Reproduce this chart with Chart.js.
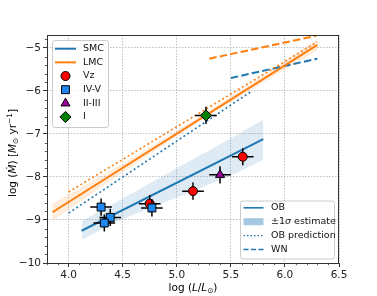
<!DOCTYPE html>
<html>
<head>
<meta charset="utf-8">
<script src="https://cdn.jsdelivr.net/npm/chart.js@4.4.0/dist/chart.umd.min.js"></script>
<style>
  body { margin: 0; background: #fff; }
</style>
</head>
<body>
<canvas id="chart" width="377" height="296"></canvas>
<script>
const xTicks = [4.0, 4.5, 5.0, 5.5, 6.0, 6.5];
const yTicks = [-10, -9, -8, -7, -6, -5];

// fitted relations, end points
const smcFitX = [4.12, 5.80];
const smcFitY = [-9.25, -7.12];
const smcBandX = [4.12, 4.5, 5.0, 5.5, 5.80];
const smcBandHi = [-9.03, -8.50, -7.80, -7.10, -6.67];
const smcBandLo = [-9.46, -8.98, -8.48, -7.97, -7.60];
const smcPredX = [4.0, 5.69];
const smcPredY = [-8.84, -6.01];
const smcWnX = [5.50, 6.30];
const smcWnY = [-5.70, -5.25];

const lmcFitX = [3.85, 6.30];
const lmcFitY = [-8.82, -4.93];
const lmcBandX = [3.85, 4.5, 5.2, 5.8, 6.30];
const lmcBandHi = [-8.62, -7.69, -6.61, -5.64, -4.80];
const lmcBandLo = [-9.02, -7.89, -6.73, -5.80, -5.06];
const lmcPredX = [4.0, 6.30];
const lmcPredY = [-8.35, -4.86];
const lmcWnX = [5.30, 6.29];
const lmcWnY = [-5.25, -4.72];

// stars by luminosity class
const vzL = [4.75, 5.15, 5.61];
const vzM = [-8.62, -8.33, -7.53];
const dwarfL = [4.30, 4.385, 4.33, 4.77];
const dwarfM = [-8.70, -8.94, -9.07, -8.72];
const giantL = [5.40];
const giantM = [-7.95];
const superL = [5.27];
const superM = [-6.57];
const errL = 0.1;
const errM = 0.2;

const regionNames = ['SMC', 'LMC'];
const classNames = ['Vz', 'IV-V', 'II-III', 'I'];
const styleNames = ['OB', '±1', 'OB prediction', 'WN'];

const C0 = '#1f77b4';
const C1 = '#ff7f0e';
const FONT = "'DejaVu Sans', sans-serif";

function pts(xs, ys) {
    return xs.map((x, i) => ({ x: x, y: ys[i] }));
}

function line(xs, ys, color, dash, width) {
    return {
        data: pts(xs, ys), borderColor: color, borderWidth: width, borderDash: dash,
        pointRadius: 0, pointHoverRadius: 0, fill: false, tension: 0, order: 10
    };
}

function bandEdge(xs, ys, fillColor) {
    return {
        data: pts(xs, ys), borderWidth: 0, borderColor: 'transparent', pointRadius: 0,
        fill: fillColor ? '+1' : false, backgroundColor: fillColor || 'transparent',
        tension: 0, order: 30
    };
}

function stars(xs, ys, style, radius, color, order) {
    return {
        data: pts(xs, ys), showLine: false, pointStyle: style, pointRadius: radius,
        pointHoverRadius: radius, pointBackgroundColor: color, pointBorderColor: '#000',
        pointBorderWidth: 1, errBars: true, order: order
    };
}

const markers = [
    { style: 'circle', r: 4.5, color: '#ff0000' },
    { style: 'rect', r: 5.6, color: '#1e88f0' },
    { style: 'triangle', r: 5.2, color: '#9b009b' },
    { style: 'rectRot', r: 5.6, color: '#008000' }
];

const errorBars = {
    id: 'errorBars',
    beforeDatasetDraw(chart, args) {
        const ds = chart.data.datasets[args.index];
        if (!ds.errBars) return;
        const ctx = chart.ctx, xs = chart.scales.x, ys = chart.scales.y;
        ctx.save();
        ctx.strokeStyle = '#000';
        ctx.lineWidth = 1.5;
        ds.data.forEach(p => {
            const px = xs.getPixelForValue(p.x), py = ys.getPixelForValue(p.y);
            ctx.beginPath();
            ctx.moveTo(xs.getPixelForValue(p.x - errL), py);
            ctx.lineTo(xs.getPixelForValue(p.x + errL), py);
            ctx.moveTo(px, ys.getPixelForValue(p.y - errM));
            ctx.lineTo(px, ys.getPixelForValue(p.y + errM));
            ctx.stroke();
        });
        ctx.restore();
    }
};

function drawRich(ctx, segs, cx, cy, size, angle) {
    const fontFor = s => (s.i ? 'italic ' : '') + (s.sub || s.sup ? size * 0.7 : size) + 'px ' + FONT;
    let total = 0;
    segs.forEach(s => { ctx.font = fontFor(s); s.w = ctx.measureText(s.t).width; total += s.w; });
    ctx.save();
    ctx.translate(cx, cy);
    ctx.rotate(angle);
    ctx.fillStyle = '#000';
    ctx.textBaseline = 'alphabetic';
    ctx.textAlign = 'left';
    let x = -total / 2;
    const base = size * 0.36;
    segs.forEach(s => {
        ctx.font = fontFor(s);
        const dy = s.sub ? size * 0.22 : (s.sup ? -size * 0.4 : 0);
        ctx.fillText(s.t, x, base + dy);
        x += s.w;
    });
    ctx.restore();
}

function legendBox(ctx, x, y, w, h) {
    ctx.save();
    ctx.beginPath();
    ctx.roundRect(x + 0.5, y + 0.5, w, h, 2.5);
    ctx.fillStyle = 'rgba(255,255,255,0.8)';
    ctx.fill();
    ctx.strokeStyle = '#cccccc';
    ctx.lineWidth = 1;
    ctx.stroke();
    ctx.restore();
}

function handleLine(ctx, x1, x2, y, color, dash, width) {
    ctx.save();
    ctx.strokeStyle = color;
    ctx.lineWidth = width;
    ctx.setLineDash(dash);
    ctx.beginPath();
    ctx.moveTo(x1, y);
    ctx.lineTo(x2, y);
    ctx.stroke();
    ctx.restore();
}

const decorations = {
    id: 'decorations',
    afterDraw(chart) {
        const ctx = chart.ctx, a = chart.chartArea;
        const xs = chart.scales.x, ys = chart.scales.y;

        // minor ticks
        ctx.save();
        ctx.strokeStyle = '#333';
        ctx.lineWidth = 0.8;
        ctx.beginPath();
        for (let k = Math.ceil(xs.min * 10); k <= Math.floor(xs.max * 10); k++) {
            if (k % 5 === 0) continue;
            const px = Math.round(xs.getPixelForValue(k / 10)) + 0.5;
            ctx.moveTo(px, a.bottom);
            ctx.lineTo(px, a.bottom + 2.2);
        }
        for (let k = Math.ceil(ys.min * 5); k <= Math.floor(ys.max * 5); k++) {
            if (k % 5 === 0) continue;
            const py = Math.round(ys.getPixelForValue(k / 5)) + 0.5;
            ctx.moveTo(a.left, py);
            ctx.lineTo(a.left - 2.2, py);
        }
        ctx.stroke();

        // frame
        ctx.strokeStyle = '#333';
        ctx.lineWidth = 1;
        ctx.strokeRect(a.left + 0.5, a.top + 0.5, a.right - a.left - 1, a.bottom - a.top);
        ctx.restore();

        // legend 1: regions and classes
        const fs = 9.5;
        legendBox(ctx, 52, 40, 56, 87);
        ctx.save();
        ctx.font = fs + 'px ' + FONT;
        ctx.fillStyle = '#111';
        ctx.textBaseline = 'middle';
        const rowY = i => 48.7 + i * 13.66;
        handleLine(ctx, 55, 76, rowY(0), C0, [], 2);
        handleLine(ctx, 55, 76, rowY(1), C1, [], 2);
        ctx.fillText(regionNames[0], 83, rowY(0));
        ctx.fillText(regionNames[1], 83, rowY(1));
        markers.forEach((m, i) => {
            ctx.fillStyle = m.color;
            ctx.strokeStyle = '#000';
            ctx.lineWidth = 1;
            Chart.helpers.drawPoint(ctx, { pointStyle: m.style, radius: m.r, rotation: 0, borderWidth: 1 }, 65.5, rowY(i + 2));
            ctx.fillStyle = '#111';
            ctx.fillText(classNames[i], 83, rowY(i + 2));
        });
        ctx.restore();

        // legend 2: line styles
        legendBox(ctx, 240, 200.5, 94, 58);
        ctx.save();
        ctx.font = fs + 'px ' + FONT;
        ctx.textBaseline = 'middle';
        const rowY2 = i => 207.8 + i * 13.9;
        handleLine(ctx, 243.5, 263.5, rowY2(0), C0, [], 1.6);
        ctx.fillStyle = 'rgba(31,119,180,0.4)';
        ctx.fillRect(243.5, rowY2(1) - 3.5, 20, 7);
        handleLine(ctx, 243.5, 263.5, rowY2(2), C0, [1.5, 2], 1.4);
        handleLine(ctx, 243.5, 263.5, rowY2(3), C0, [5, 2.5], 1.4);
        ctx.fillStyle = '#111';
        ctx.fillText(styleNames[0], 271, rowY2(0));
        let tx = 271;
        ctx.fillText(styleNames[1], tx, rowY2(1));
        tx += ctx.measureText(styleNames[1]).width;
        ctx.font = 'italic ' + fs + 'px ' + FONT;
        ctx.fillText('σ', tx, rowY2(1));
        tx += ctx.measureText('σ').width;
        ctx.font = fs + 'px ' + FONT;
        ctx.fillText(' estimate', tx, rowY2(1));
        ctx.fillText(styleNames[2], 271, rowY2(2));
        ctx.fillText(styleNames[3], 271, rowY2(3));
        ctx.restore();

        // axis titles
        drawRich(ctx, [
            { t: 'log (' }, { t: 'L', i: true }, { t: '/' }, { t: 'L', i: true },
            { t: '⊙', sub: true }, { t: ')' }
        ], (a.left + a.right) / 2, 287, 10.5, 0);
        drawRich(ctx, [
            { t: 'log (' }, { t: 'Ṁ', i: true }, { t: ') [' }, { t: 'M', i: true },
            { t: '⊙', sub: true }, { t: ' yr' }, { t: '−1', sup: true }, { t: ']' }
        ], 12, 153, 10.5, -Math.PI / 2);
    }
};

const ctx = document.getElementById('chart').getContext('2d');

new Chart(ctx, {
    type: 'line',
    data: {
        datasets: [
            bandEdge(smcBandX, smcBandHi, 'rgba(31,119,180,0.15)'),
            bandEdge(smcBandX, smcBandLo, null),
            bandEdge(lmcBandX, lmcBandHi, 'rgba(255,127,14,0.15)'),
            bandEdge(lmcBandX, lmcBandLo, null),
            line(smcFitX, smcFitY, C0, [], 2),
            line(lmcFitX, lmcFitY, C1, [], 2),
            line(smcPredX, smcPredY, C0, [2, 2.6], 1.6),
            line(lmcPredX, lmcPredY, C1, [2, 2.6], 1.6),
            line(smcWnX, smcWnY, C0, [7.5, 3.2], 2),
            line(lmcWnX, lmcWnY, C1, [7.5, 3.2], 2),
            stars(vzL, vzM, markers[0].style, markers[0].r, markers[0].color, 4),
            stars(dwarfL, dwarfM, markers[1].style, markers[1].r, markers[1].color, 3),
            stars(giantL, giantM, markers[2].style, markers[2].r, markers[2].color, 2),
            stars(superL, superM, markers[3].style, markers[3].r, markers[3].color, 1)
        ]
    },
    options: {
        responsive: false,
        animation: false,
        events: [],
        layout: { padding: { left: 0, top: 35, right: 38, bottom: 0 } },
        plugins: {
            legend: { display: false },
            tooltip: { enabled: false }
        },
        scales: {
            x: {
                type: 'linear',
                min: 3.8,
                max: 6.5,
                afterBuildTicks: function(scale) {
                    scale.ticks = xTicks.map(v => ({ value: v }));
                },
                afterFit: function(scale) { scale.height = 33; },
                ticks: {
                    autoSkip: false,
                    maxRotation: 0,
                    padding: 2,
                    color: '#222',
                    font: { family: FONT, size: 10.5 },
                    callback: function(value) { return value.toFixed(1); }
                },
                grid: { color: '#b0b0b0', lineWidth: 0.8, tickColor: '#333', tickLength: 4, tickWidth: 1 },
                border: { display: false, dash: [1.5, 1.5] }
            },
            y: {
                type: 'linear',
                min: -10,
                max: -4.7,
                afterBuildTicks: function(scale) {
                    scale.ticks = yTicks.map(v => ({ value: v }));
                },
                afterFit: function(scale) { scale.width = 47; },
                ticks: {
                    autoSkip: false,
                    padding: 2,
                    color: '#222',
                    font: { family: FONT, size: 10.5 },
                    callback: function(value) { return '\u2212' + Math.abs(value); }
                },
                grid: { color: '#b0b0b0', lineWidth: 0.8, tickColor: '#333', tickLength: 4, tickWidth: 1 },
                border: { display: false, dash: [1.5, 1.5] }
            }
        }
    },
    plugins: [errorBars, decorations]
});
</script>
</body>
</html>
